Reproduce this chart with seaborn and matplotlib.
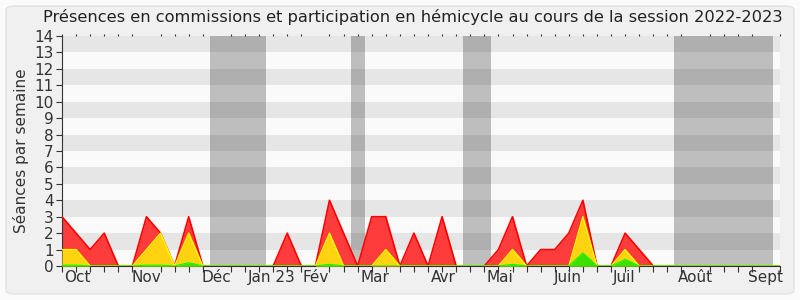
import numpy as np
import pandas as pd
import matplotlib
matplotlib.use("Agg")
import matplotlib.pyplot as plt
from matplotlib.patches import FancyBboxPatch
import seaborn as sns

# Weekly values (week index 0..51)
total = [3, 2, 1, 2, 0, 0, 3, 2, 0, 3, 0, 0, 0, 0, 0, 0, 2, 0, 0, 4,
         2, 0, 3, 3, 0, 2, 0, 3, 0, 0, 0, 1, 3, 0, 1, 1, 2, 4, 0, 0,
         2, 1, 0, 0, 0, 0, 0, 0, 0, 0, 0, 0]
hemicycle = [1, 1, 0, 0, 0, 0, 1, 2, 0, 2, 0, 0, 0, 0, 0, 0, 0, 0, 0, 2,
             0, 0, 0, 1, 0, 0, 0, 0, 0, 0, 0, 0, 1, 0, 0, 0, 0, 3, 0, 0,
             1, 0, 0, 0, 0, 0, 0, 0, 0, 0, 0, 0]
interventions = [0.05, 0.05, 0, 0, 0, 0, 0.05, 0.05, 0, 0.2, 0, 0, 0, 0, 0, 0, 0, 0, 0, 0.1,
                 0, 0, 0, 0, 0, 0, 0, 0, 0, 0, 0, 0, 0.1, 0, 0, 0, 0, 0.8, 0, 0,
                 0.4, 0, 0, 0, 0, 0, 0, 0, 0, 0, 0, 0]
vacations = [(10.5, 14.5), (20.5, 21.5), (28.5, 30.5), (43.5, 50.5)]
month_labels = ["Oct", "Nov", "Déc", "Jan 23", "Fév", "Mar", "Avr", "Mai",
                "Juin", "Juil", "Août", "Sept"]
month_pos = [1.1, 6.0, 11.0, 14.9, 18.0, 22.2, 27.05, 31.1, 35.9, 39.9, 45.0, 50.0]

weeks = np.arange(len(total))
df = pd.DataFrame({"week": weeks, "total": total, "hemicycle": hemicycle,
                   "interventions": interventions})

sns.set_theme(style="white")
plt.rcParams["font.family"] = ["DejaVu Sans"]

fig = plt.figure(figsize=(8, 3), dpi=100, facecolor="#fbfbfb")
frame = FancyBboxPatch((6 / 800, 6 / 300), 788 / 800, 288 / 300,
                       boxstyle="round,pad=0,rounding_size=0.012",
                       transform=fig.transFigure, facecolor="#f0f0f0",
                       edgecolor="#e2e2e2", lw=1.0, zorder=-10)
fig.add_artist(frame)

ax = fig.add_axes([0.0775, 0.1133, 0.8975, 0.7667])
ax.set_zorder(1)
ax.set_facecolor("#fafafa")

# Alternating bands
for k in range(1, 14, 2):
    ax.axhspan(k, k + 1, color="#e6e6e6", zorder=0, lw=0)

# Vacation shading
for a, b in vacations:
    ax.axvspan(a, b, color="black", alpha=0.24, zorder=1, lw=0)

# Layers
ax.fill_between(df["week"], 0, df["total"], color="#ff3c3c", zorder=2, lw=0)
sns.lineplot(data=df, x="week", y="total", color="#ff0000", lw=1.2, ax=ax, zorder=3)
ax.fill_between(df["week"], 0, df["hemicycle"], color="#ffd30f", zorder=4, lw=0)
sns.lineplot(data=df, x="week", y="hemicycle", color="#ffff00", lw=1.0, ax=ax, zorder=5)
ax.fill_between(df["week"], 0, df["interventions"], color="#3ee000", zorder=6, lw=0)
sns.lineplot(data=df, x="week", y="interventions", color="#00ff00", lw=0.8, ax=ax, zorder=7)

ax.set_xlim(0, 51)
ax.set_ylim(0, 14)
ax.set_yticks(range(0, 15))
ax.set_yticklabels([str(i) for i in range(0, 15)], fontsize=11, color="#333333")
ax.set_xticks(month_pos)
ax.set_xticklabels(month_labels, fontsize=11, color="#333333")
ax.set_xticks(np.arange(0, 52), minor=True)
ax.tick_params(axis="x", which="major", length=0, pad=3)
ax.tick_params(axis="x", which="minor", length=4, width=0.8, color="#333333",
               direction="out", bottom=True, top=True)
ax.tick_params(axis="y", which="major", length=4, width=0.8, color="#333333",
               direction="out", left=True, pad=2)

for s in ["top", "right"]:
    ax.spines[s].set_visible(False)
ax.spines["left"].set_color("#333333")
ax.spines["bottom"].set_color("#3a2a2a")
ax.spines["left"].set_linewidth(0.8)
ax.spines["bottom"].set_linewidth(0.8)

# tiny dotted marks along the top edge (week positions)
for t in ax.xaxis.get_minor_ticks():
    t.tick2line.set_markersize(1.2)
    t.tick2line.set_color("#555555")

ax.set_xlabel("")
ax.set_ylabel("Séances par semaine", fontsize=11, color="#333333", labelpad=4)
fig.text(413 / 800, 1 - 17 / 300,
         "Présences en commissions et participation en hémicycle au cours de la session 2022-2023",
         fontsize=11.7, color="#222222", ha="center", va="center")

fig.savefig("out.png", dpi=100, facecolor=fig.get_facecolor())
